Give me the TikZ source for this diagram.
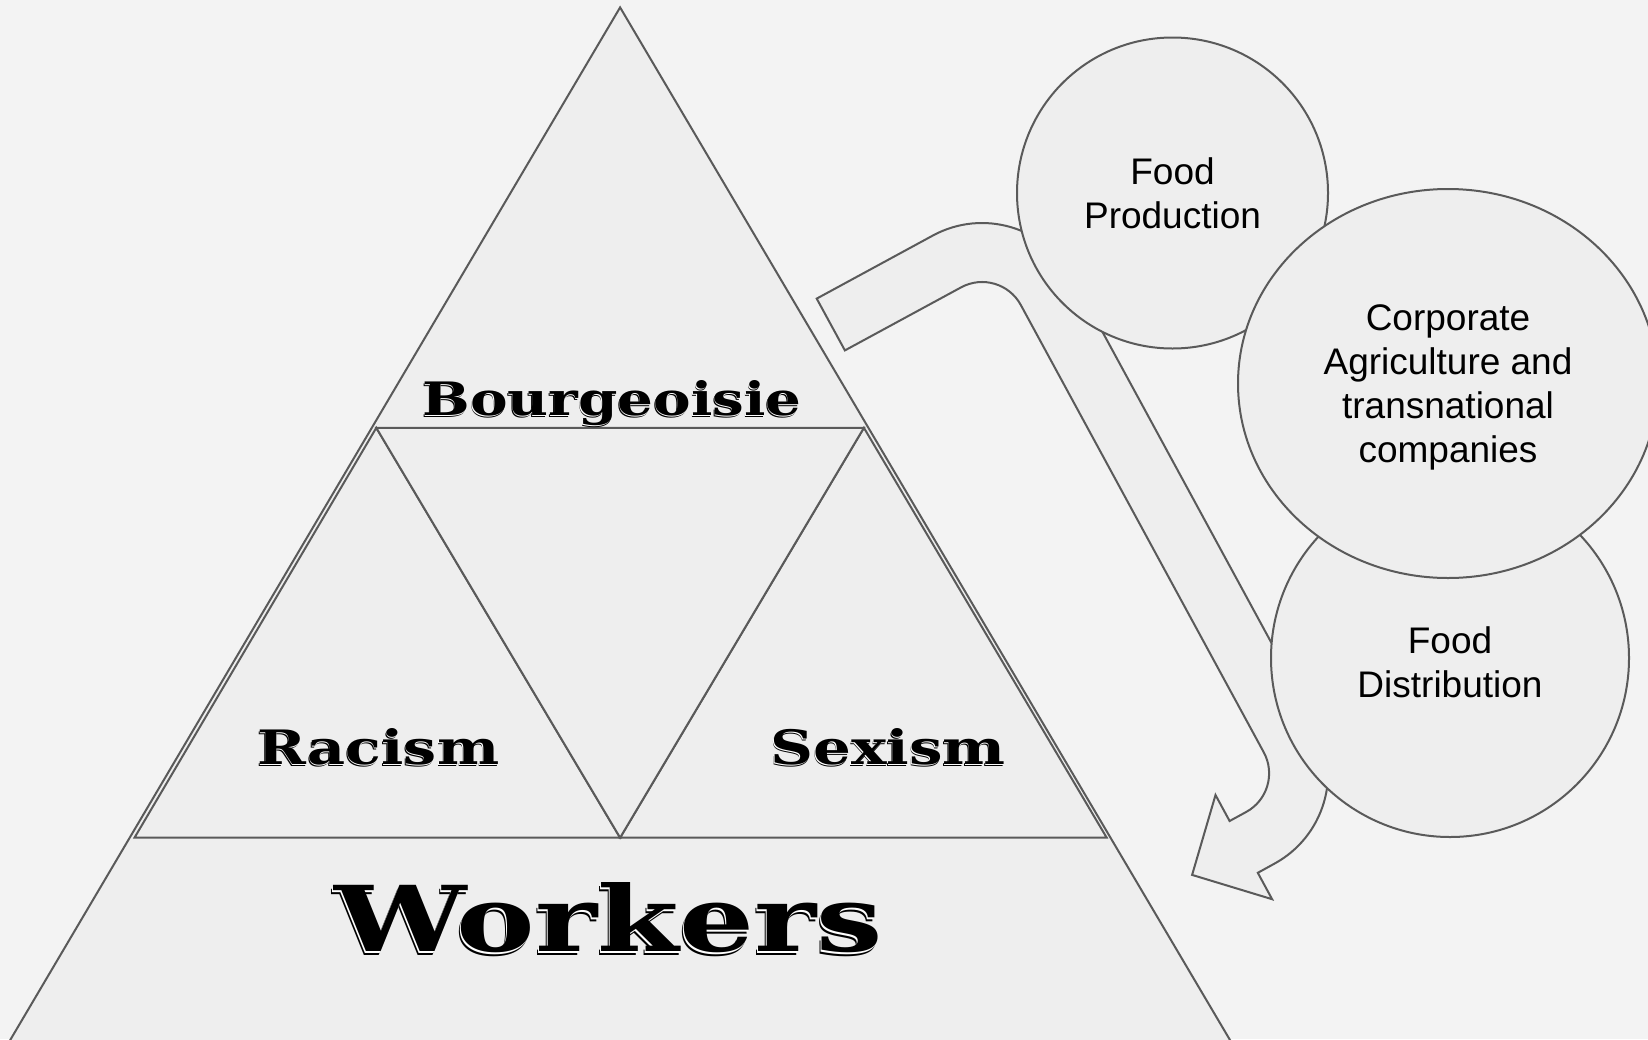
\documentclass[tikz,border=0pt]{standalone}
\usepackage{fontspec}
\setmainfont{Liberation Sans}
\newfontfamily\slabfont{DejaVu Serif}
\usetikzlibrary{shapes.geometric}
\definecolor{bgc}{HTML}{F3F3F3}
\definecolor{fillc}{HTML}{EEEEEE}
\definecolor{linec}{HTML}{5A5A5A}
\newcommand{\shadowin}[1]{%
  \rlap{\kern-0.35pt\raisebox{-0.9pt}{\color{black}#1}}%
  \rlap{\kern-0.17pt\raisebox{-0.45pt}{\color{white}#1}}%
  {\color{black}#1}}
\newcommand{\vshadow}[3]{\resizebox{#1}{#2}{\slabfont\bfseries\fontsize{20pt}{24pt}\selectfont\shadowin{#3}}}
\begin{document}
\begin{tikzpicture}[x=0.5pt,y=-0.5pt,
  part/.style={fill=fillc,draw=linec,line width=1pt,line join=miter},
  bubtext/.style={inner sep=0pt,align=center,text=black,text depth=0pt,
    font=\fontsize{18.5pt}{22pt}\selectfont},
  bubble/.style={part,circle,bubtext},
  slab/.style={inner sep=0pt,anchor=base}]
\fill[bgc] (0,0) rectangle (1648,1039);
\useasboundingbox (0,0) rectangle (1648,1039);
% pyramid
\filldraw[part] (620.1,7.4) -- (-1.6,1060) -- (1241.8,1060) -- cycle;
\filldraw[part] (134.5,837.7) -- (376.3,427.8) -- (620.1,837.7) -- cycle;
\filldraw[part] (620.1,837.7) -- (863.9,427.8) -- (1106.7,837.7) -- cycle;
\filldraw[part] (376.3,427.8) -- (863.9,427.8) -- (620.1,837.7) -- cycle;
\node[slab] (bourg) at (612,415) {\vshadow{189.5pt}{17.5pt}{Bourgeoisie}};
\node[slab] (racism) at (378.4,764) {\vshadow{120.9pt}{18pt}{Racism}};
\node[slab] (sexism) at (888,764) {\vshadow{117.7pt}{18pt}{Sexism}};
\node[slab] (workers) at (608.5,951) {\vshadow{274.3pt}{34.5pt}{Workers}};
% bent arrow
\filldraw[part] (816.7,298.6) -- (932.9,235.5)
  arc[start angle=-118.5, end angle=-28.5, radius=103]
  -- (1315.6,724.1)
  arc[start angle=-28.5, end angle=61.5, radius=103]
  -- (1257.8,872.8) -- (1272.1,899.2) -- (1192.1,874.9) -- (1215.5,795.0)
  -- (1229.6,821.0) -- (1246.1,812.0)
  arc[start angle=61.5, end angle=-28.5, radius=44]
  -- (1020.8,305.0)
  arc[start angle=-28.5, end angle=-118.5, radius=44]
  -- (844.9,350.4) -- cycle;
% bubbles
\node[bubble, minimum size=155.5pt] (prod) at (1172.5,193) {Food\\Production};
\node[bubble, minimum size=179pt] (dist) at (1450,658) {};
\node[bubtext] (distlbl) at (1450,662) {Food\\Distribution};
\node[bubble, ellipse, minimum width=210pt, minimum height=194.5pt] (corp) at (1448,383.5)
  {Corporate\\Agriculture and\\transnational\\companies};
\end{tikzpicture}
\end{document}
